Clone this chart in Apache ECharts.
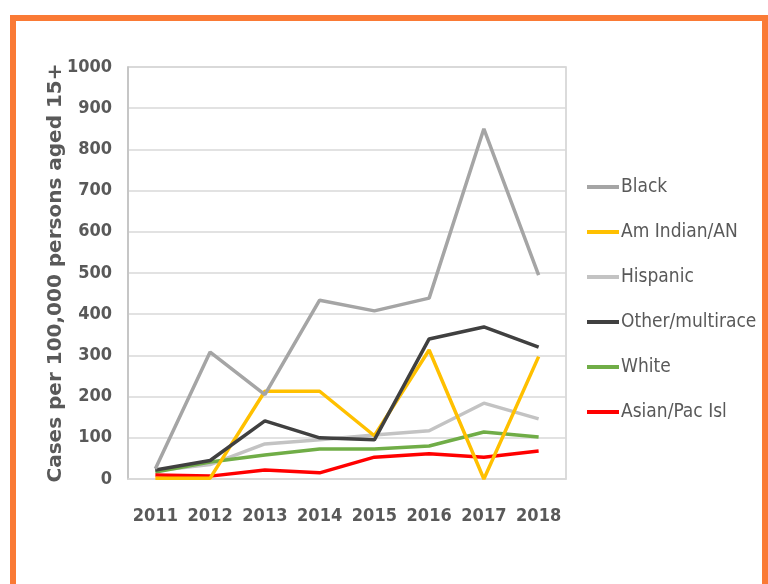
<!DOCTYPE html>
<html><head><meta charset="utf-8">
<script src="https://cdn.jsdelivr.net/npm/echarts@6/dist/echarts.min.js"></script>
<style>html,body{margin:0;padding:0;background:#fff}#c{width:768px;height:584px}</style>
</head><body><div id="c"></div>
<script>
const categories = ['2011','2012','2013','2014','2015','2016','2017','2018'];
const yTicks = [0,100,200,300,400,500,600,700,800,900,1000];
const black = [25, 308, 205, 434, 408, 439, 850, 495];
const amIndian = [2, 2, 213, 213, 105, 313, 0, 297];
const hispanic = [20, 35, 85, 95, 107, 117, 184, 146];
const other = [22, 45, 141, 100, 95, 340, 369, 320];
const white = [17, 41, 58, 73, 73, 80, 114, 102];
const asian = [10, 7, 22, 15, 53, 61, 53, 68];

const seriesNames = ['Black','Am Indian/AN','Hispanic','Other/multirace','White','Asian/Pac Isl'];
const seriesData = [black, amIndian, hispanic, other, white, asian];
const colors = ['#A5A5A5','#FFC000','#C3C3C3','#404040','#70AD47','#FF0000'];
const drawOrder = [2, 4, 5, 1, 3, 0];

const font = '"DejaVu Sans Condensed", "Liberation Sans Narrow", sans-serif';
const chart = echarts.init(document.getElementById('c'));
chart.setOption({
  animation: false,
  backgroundColor: '#fff',
  graphic: [{
    type: 'rect', silent: true, z: 100,
    shape: { x: 13, y: 18, width: 752, height: 600 },
    style: { fill: 'none', stroke: '#FA7A35', lineWidth: 6 }
  }],
  grid: { left: 128, top: 67, right: 202, bottom: 105, show: true, borderColor: '#D0D0D0', borderWidth: 1.5 },
  legend: {
    orient: 'vertical', left: 582, top: 172, itemGap: 25,
    itemWidth: 32, itemHeight: 4, icon: 'rect',
    data: seriesNames,
    textStyle: { fontFamily: font, fontSize: 19, color: '#595959', lineHeight: 20, padding: [0,0,0,-3] }
  },
  xAxis: {
    type: 'category', data: categories, boundaryGap: true,
    axisLine: { show: true, lineStyle: { color: '#D9D9D9', width: 1.5 } },
    axisTick: { show: false },
    axisLabel: { interval: 0, fontFamily: font, fontSize: 18, fontWeight: 'bold', color: '#595959', margin: 28 }
  },
  yAxis: {
    type: 'value', min: 0, max: 1000, interval: 100,
    name: 'Cases per 100,000 persons aged 15+', nameLocation: 'middle', nameGap: 62,
    nameMoveOverlap: false,
    nameTextStyle: { fontFamily: '"DejaVu Sans", sans-serif', fontSize: 20, fontWeight: 'bold', color: '#595959' },
    axisLine: { show: true, lineStyle: { color: '#BFBFBF', width: 1.5 } },
    axisTick: { show: false },
    splitLine: { lineStyle: { color: '#D9D9D9', width: 1.5 } },
    axisLabel: { fontFamily: font, fontSize: 18, fontWeight: 'bold', color: '#595959', margin: 16,
      formatter: v => yTicks.includes(v) ? String(v) : '' }
  },
  series: drawOrder.map(i => ({
    name: seriesNames[i], type: 'line', data: seriesData[i],
    symbol: 'none', z: 2 + drawOrder.indexOf(i),
    lineStyle: { color: colors[i], width: 3.5 },
    itemStyle: { color: colors[i] }
  }))
});
</script></body></html>
